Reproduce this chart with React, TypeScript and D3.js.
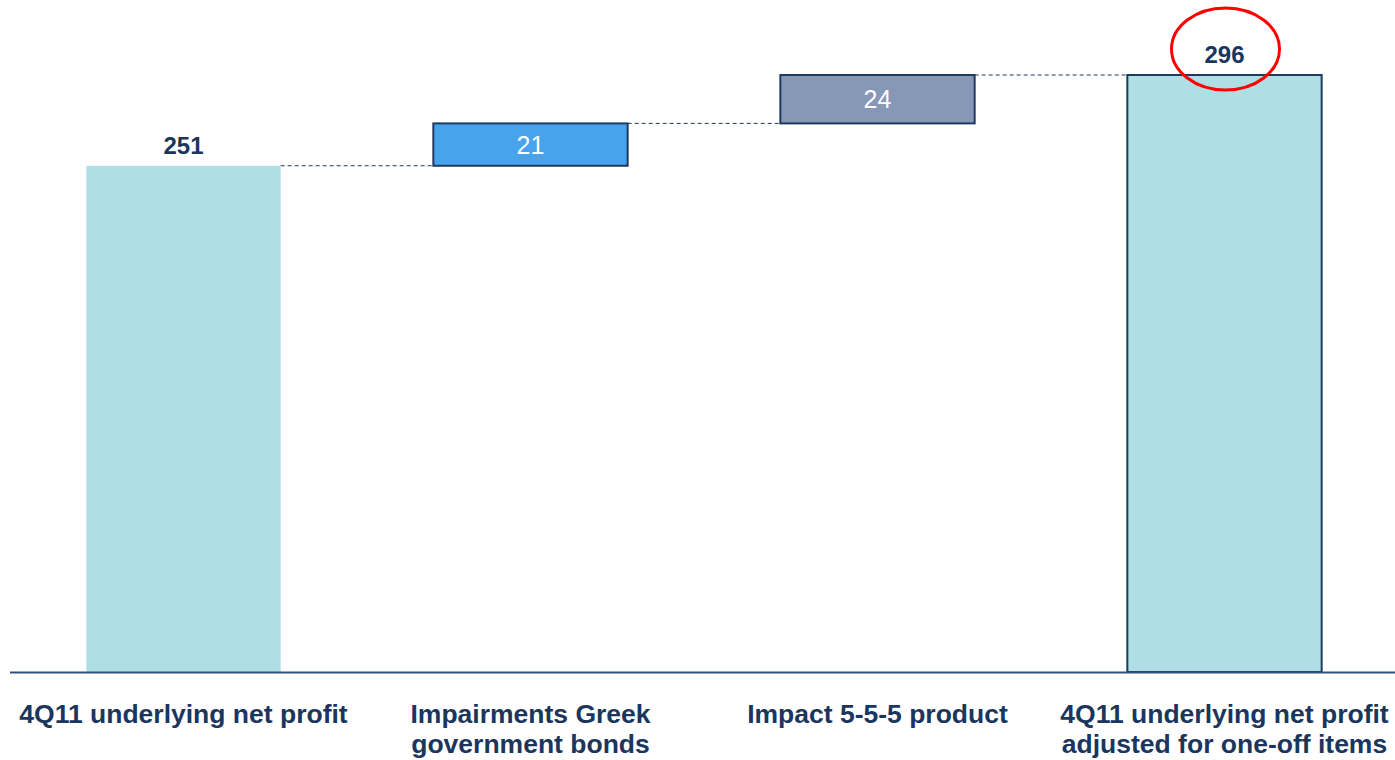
import React from "react";
import * as d3 from "d3";

const categories = [
  ["4Q11 underlying net profit"],
  ["Impairments Greek", "government bonds"],
  ["Impact 5-5-5 product"],
  ["4Q11 underlying net profit", "adjusted for one-off items"],
];
const values = [251, 21, 24, 296];
const kinds = ["total", "delta", "delta", "total"];
const fills = ["#AFDFE4", "#47A4EC", "#8797B6", "#AFDFE4"];
const strokes = ["none", "#1F3960", "#1F3960", "#1F3960"];
const labelInside = [false, true, true, false];

const W = 1395;
const H = 760;
const NAVY = "#1B365D";
const FONT = "'Liberation Sans', Arial, Helvetica, sans-serif";

export default function App() {
  const x = d3
    .scaleBand<number>()
    .domain(values.map((_, i) => i))
    .range([10, 1398])
    .paddingInner(0.44)
    .paddingOuter(0.22);
  const y = d3.scaleLinear().domain([0, 296]).range([672, 75]);

  let running = 0;
  const segs = values.map((v, i) => {
    let lo: number, hi: number;
    if (kinds[i] === "total") {
      lo = 0;
      hi = v;
      running = v;
    } else {
      lo = running;
      hi = running + v;
      running = hi;
    }
    return { i, lo, hi, v };
  });

  const bw = x.bandwidth();

  return (
    <div style={{ position: "absolute", left: 0, top: 0 }}>
      <svg width={W} height={H} style={{ display: "block", background: "#fff" }}>
        {segs.slice(0, -1).map((s, k) => {
          const next = segs[k + 1];
          const level = s.hi;
          return (
            <line
              key={"c" + k}
              x1={(x(s.i) as number) + bw}
              x2={x(next.i) as number}
              y1={y(level)}
              y2={y(level)}
              stroke="#1F3960"
              strokeWidth={1}
              strokeDasharray="4,3"
            />
          );
        })}
        {segs.map((s) => (
          <rect
            key={"b" + s.i}
            x={x(s.i) as number}
            y={y(s.hi)}
            width={bw}
            height={y(s.lo) - y(s.hi)}
            fill={fills[s.i]}
            stroke={strokes[s.i]}
            strokeWidth={strokes[s.i] === "none" ? 0 : 2}
          />
        ))}
        <line x1={10} x2={1395} y1={672.5} y2={672.5} stroke="#33507A" strokeWidth={2} />
        {segs.map((s) => {
          const cx = (x(s.i) as number) + bw / 2;
          if (labelInside[s.i]) {
            return (
              <text
                key={"v" + s.i}
                x={cx}
                y={(y(s.hi) + y(s.lo)) / 2 + 9}
                textAnchor="middle"
                fontFamily={FONT}
                fontSize={25}
                fill="#ffffff"
              >
                {s.v}
              </text>
            );
          }
          return (
            <text
              key={"v" + s.i}
              x={cx}
              y={y(s.hi) - 12}
              textAnchor="middle"
              fontFamily={FONT}
              fontSize={24}
              fontWeight="bold"
              fill={NAVY}
            >
              {s.v}
            </text>
          );
        })}
        <ellipse
          cx={(x(3) as number) + bw / 2 + 1}
          cy={49}
          rx={54}
          ry={41}
          fill="none"
          stroke="#FF0000"
          strokeWidth={3}
        />
        {categories.map((lines, i) => (
          <text
            key={"l" + i}
            x={(x(i) as number) + bw / 2}
            y={723}
            textAnchor="middle"
            fontFamily={FONT}
            fontSize={26.5}
            fontWeight="bold"
            fill={NAVY}
          >
            {lines.map((ln, j) => (
              <tspan key={j} x={(x(i) as number) + bw / 2} dy={j === 0 ? 0 : 30}>
                {ln}
              </tspan>
            ))}
          </text>
        ))}
      </svg>
    </div>
  );
}
